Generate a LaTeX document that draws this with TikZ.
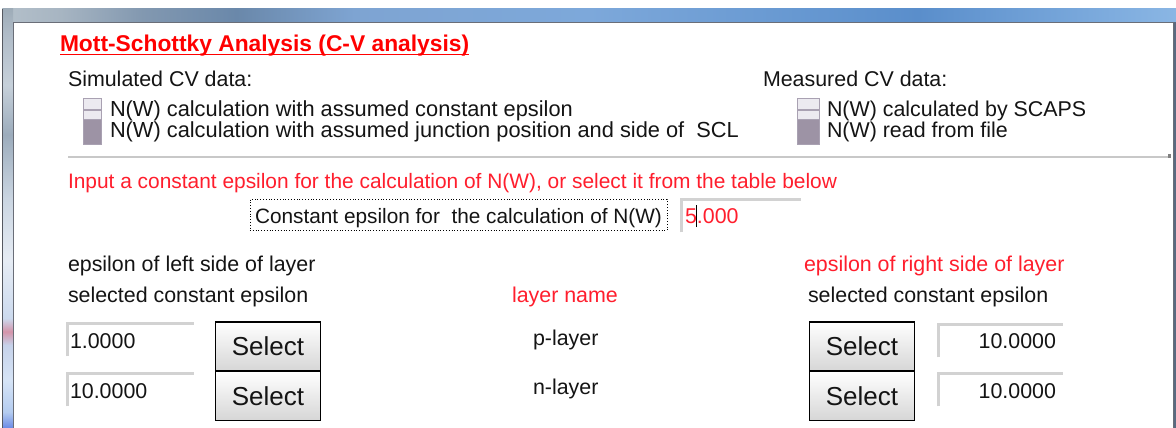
\documentclass[tikz,border=0pt]{standalone}
\usepackage{fontspec}
\setmainfont{Liberation Sans}
\definecolor{txtc}{HTML}{141414}
\definecolor{redc}{HTML}{FF1E2D}
\definecolor{tb1}{HTML}{B4C0CA}
\definecolor{tb2}{HTML}{A7B5C2}
\definecolor{tb3}{HTML}{8298B0}
\definecolor{tb4}{HTML}{6A88AA}
\definecolor{tb5}{HTML}{7EA4D2}
\definecolor{tb6}{HTML}{7DA8DA}
\definecolor{tb7}{HTML}{6496D0}
\definecolor{tb8}{HTML}{5A8ECB}
\definecolor{tb9}{HTML}{8AB6E4}
\definecolor{fr1}{HTML}{6A8AE6}
\definecolor{fr2}{HTML}{B4CCF0}
\definecolor{fr3}{HTML}{D6E4F6}
\definecolor{fr4}{HTML}{C6D2EA}
\definecolor{fr5}{HTML}{D494AA}
\definecolor{fr6}{HTML}{CCDAEE}
\definecolor{fr7}{HTML}{E6ECF4}
\definecolor{fr8}{HTML}{CBD6E2}
\definecolor{fr9}{HTML}{9CACBC}
\definecolor{fr10}{HTML}{C6D0DA}
\definecolor{fr11}{HTML}{B0BCC8}
\definecolor{fr12}{HTML}{9EACB8}
\definecolor{panelc}{HTML}{6A6E78}
\definecolor{rightedge}{HTML}{5A6A80}
\definecolor{sliderdark}{HTML}{9D93A5}
\definecolor{sliderlight}{HTML}{ECEAF0}
\definecolor{slideredge}{HTML}{A9A1B2}
\definecolor{fieldc}{HTML}{D2D2D2}
\definecolor{sepc}{HTML}{C8C8C8}
\definecolor{btnbot}{HTML}{D6D6D6}
\pgfdeclarehorizontalshading{titlebar}{100bp}{color(0bp)=(tb1); color(25bp)=(tb1); color(27.5bp)=(tb2); color(31bp)=(tb3); color(35bp)=(tb4); color(40bp)=(tb5); color(50bp)=(tb6); color(60bp)=(tb7); color(64bp)=(tb8); color(75bp)=(tb9); color(100bp)=(tb9)}
\pgfdeclareverticalshading{framebar}{100bp}{color(0bp)=(fr1); color(25bp)=(fr1); color(26.9bp)=(fr2); color(30.7bp)=(fr3); color(34.9bp)=(fr4); color(36.5bp)=(fr5); color(38.1bp)=(fr6); color(45bp)=(fr7); color(52.2bp)=(fr8); color(60bp)=(fr9); color(65.9bp)=(fr10); color(71.9bp)=(fr11); color(75bp)=(fr12); color(100bp)=(fr12)}
\newcommand{\nfont}{\fontsize{21.4}{26}\selectfont}
\newcommand{\simfont}{\fontsize{21.8}{26}\selectfont}
\newcommand{\hintfont}{\fontsize{20.9}{26}\selectfont}
\newcommand{\cepsfont}{\fontsize{20.8}{26}\selectfont}
\newcommand{\titlefont}{\fontsize{22.8}{27}\selectfont\bfseries}
\newcommand{\btnfont}{\fontsize{26}{30}\selectfont}
\tikzset{
  lbl/.style={anchor=base west, inner sep=0pt, outer sep=0pt, font=\nfont, text=txtc},
  lblred/.style={lbl, text=redc},
  fieldbox/.style={minimum width=#1, minimum height=34pt, inner sep=0pt, anchor=north west},
  fieldedge/.style={draw=fieldc, line width=3pt},
  selbtn/.style={draw=black, line width=1.6pt, top color=white, bottom color=btnbot,
     minimum width=105pt, minimum height=49pt, inner sep=0pt, font=\btnfont, text=txtc},
  cvslider/.pic={
    \fill[sliderdark] (0,0) rectangle (#1,46);
    \draw[slideredge, line width=0.8pt] (0,0) rectangle (#1,46);
    \filldraw[fill=sliderlight, draw=slideredge, line width=0.8pt] (0,0) rectangle (#1,11);
    \filldraw[fill=sliderlight, draw=slideredge, line width=0.8pt] (0,12.5) rectangle (#1,21);
  }
}
\begin{document}
\begin{tikzpicture}[x=1pt, y=-1pt]
\useasboundingbox (0,0) rectangle (1176,428);
% background and window chrome
\fill[white] (0,0) rectangle (1176,428);
\shade[shading=titlebar] (2,9) rectangle (1176,22);
\shade[shading=framebar] (3,9) rectangle (13,428);
\draw[panelc!80!black, line width=1.2pt] (2.6,9) -- (2.6,428);
\fill[white] (14,22) rectangle (1173,428);
\fill[rightedge] (1174,22) rectangle (1176,428);
\draw[panelc, line width=1pt] (13.5,428) -- (13.5,22.5) -- (1173.5,22.5) -- (1173.5,428);

% title
\node[lbl, font=\titlefont, text=red] (title) at (60,52) {Mott-Schottky Analysis (C-V analysis)};
\draw[red, line width=1.6pt] ([yshift=-2.5pt]title.base west) -- ([yshift=-2.5pt]title.base east);

% simulated CV data
\node[lbl] (sim) at (68,86) {Simulated CV data:};
\pic at (83,98) {cvslider=18};
\node[lbl, font=\simfont] (sim1) at (110,116) {N(W) calculation with assumed constant epsilon};
\node[lbl, font=\simfont] (sim2) at (110,137) {N(W) calculation with assumed junction position and side of\ \ SCL};

% measured CV data
\node[lbl] (meas) at (763,86) {Measured CV data:};
\pic at (797,98) {cvslider=22};
\node[lbl] (meas1) at (827,116) {N(W) calculated by SCAPS};
\node[lbl] (meas2) at (827,137) {N(W) read from file};

% separator
\coordinate (sepL) at (68,157);
\coordinate (sepR) at (1171,157);
\draw[sepc, line width=2pt] (sepL) -- (sepR);
\fill[gray] ([xshift=-3pt,yshift=3pt]sepR) rectangle ([yshift=-1pt]sepR);

% constant epsilon
\node[lblred, font=\hintfont] (hint) at (68,188) {Input a constant epsilon for the calculation of N(W), or select it from the table below};
\node[lbl, font=\cepsfont] (ceps) at (255,223) {Constant epsilon for\ \ the calculation of N(W)};
\node[draw=black, dotted, line width=0.8pt, minimum width=417pt, minimum height=31pt, anchor=north west, inner sep=0pt] (cepsbox) at (249.5,199) {};
\node[fieldbox=121pt] (cfield) at (680,198) {};
\draw[fieldedge] ([xshift=1.5pt]cfield.south west) -- ([xshift=1.5pt,yshift=-1.5pt]cfield.north west) -- ([yshift=-1.5pt]cfield.north east);
\node[lblred] (c5) at (685,223) {5};
\node[lblred] (c000) at (c5.base east) {.000};
\draw[black, line width=0.9pt] ([yshift=-4pt]c5.base east) -- ([yshift=18pt]c5.base east);

% column headers
\node[lbl] (lefthead1) at (68,271) {epsilon of left side of layer};
\node[lbl] (lefthead2) at (68,302) {selected constant epsilon};
\node[lblred] (midhead) at (512,302) {layer name};
\node[lblred] (righthead1) at (804,271) {epsilon of right side of layer};
\node[lbl] (righthead2) at (808,302) {selected constant epsilon};

% left fields
\node[fieldbox=128pt] (lf1) at (66,322) {};
\node[fieldbox=128pt] (lf2) at (66,372) {};
\foreach \f in {lf1,lf2}{
  \draw[fieldedge] ([xshift=1.5pt]\f.south west) -- ([xshift=1.5pt,yshift=-1.5pt]\f.north west) -- ([yshift=-1.5pt]\f.north east);
}
\node[lbl] (lv1) at (70,348) {1.0000};
\node[lbl] (lv2) at (70,398) {10.0000};

% left buttons
\node[selbtn] (lb1) at (268,346.5) {Select};
\node[selbtn] (lb2) at (268,396) {Select};

% layer names
\node[lbl] (pl) at (533,345) {p-layer};
\node[lbl] (nl) at (533,394) {n-layer};

% right buttons
\node[selbtn] (rb1) at (862,346.5) {Select};
\node[selbtn] (rb2) at (862,396) {Select};

% right fields
\node[fieldbox=126pt] (rf1) at (937,323) {};
\node[fieldbox=126pt] (rf2) at (937,372) {};
\foreach \f in {rf1,rf2}{
  \draw[fieldedge] ([xshift=1.5pt]\f.south west) -- ([xshift=1.5pt,yshift=-1.5pt]\f.north west) -- ([yshift=-1.5pt]\f.north east);
}
\node[lbl, anchor=base east] (rv1) at (1056,348) {10.0000};
\node[lbl, anchor=base east] (rv2) at (1056,398) {10.0000};
\end{tikzpicture}
\end{document}
